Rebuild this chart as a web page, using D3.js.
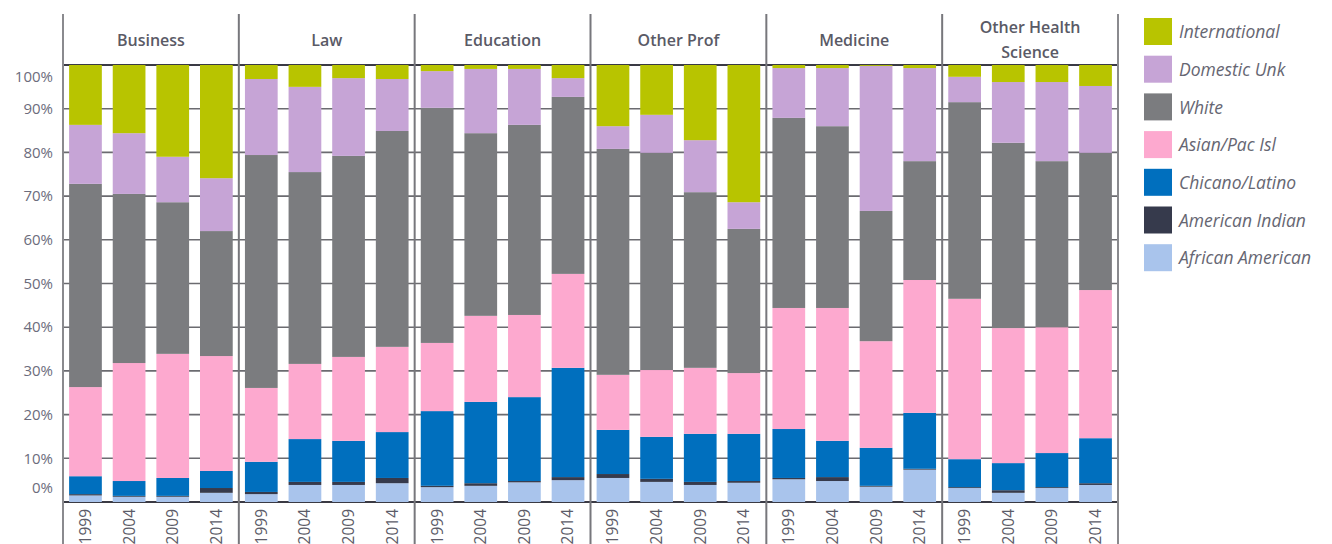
<!DOCTYPE html>
<html>
<head>
<meta charset="utf-8">
<script src="https://cdn.jsdelivr.net/npm/d3@7"></script>
<style>
    body { margin: 0; background: #fff; }
    svg { display: block; font-family: "Open Sans", "DejaVu Sans", sans-serif; }
</style>
</head>
<body>
<svg id="canvas"></svg>
<script>
const PROGRAMS = ["Business", "Law", "Education", "Other Prof", "Medicine", "Other Health Science"];
const YEARS = ["1999", "2004", "2009", "2014"];
const Y_TICKS = [0, 10, 20, 30, 40, 50, 60, 70, 80, 90, 100];

// one value per bar, programs in order, years inside (percent of enrolment)
const AFRICAN_AMERICAN = [1.5, 1.2, 1.2, 2.1, 1.8, 3.9, 3.9, 4.3, 3.4, 3.7, 4.5, 5.0, 5.5, 4.6, 3.9, 4.4, 5.2, 4.8, 3.5, 7.4, 3.2, 2.1, 3.2, 3.9];
const AMERICAN_INDIAN = [0.3, 0.2, 0.2, 1.1, 0.5, 0.7, 0.7, 1.2, 0.3, 0.6, 0.3, 0.7, 0.9, 0.7, 0.7, 0.4, 0.3, 0.9, 0.2, 0.2, 0.2, 0.6, 0.2, 0.4];
const CHICANO_LATINO = [4.1, 3.4, 4.1, 3.9, 6.9, 9.8, 9.4, 10.5, 17.1, 18.6, 19.2, 25.0, 10.1, 9.6, 11.0, 10.8, 11.2, 8.3, 8.7, 12.8, 6.4, 6.2, 7.8, 10.3];
const ASIAN_PAC = [20.4, 27.0, 28.4, 26.3, 16.9, 17.2, 19.2, 19.5, 15.6, 19.7, 18.8, 21.5, 12.6, 15.3, 15.1, 13.9, 27.7, 30.4, 24.4, 30.4, 36.7, 30.9, 28.8, 33.9];
const WHITE = [46.5, 38.7, 34.7, 28.6, 53.3, 43.9, 46.0, 49.4, 53.8, 41.8, 43.5, 40.5, 51.7, 49.7, 40.2, 33.0, 43.5, 41.6, 29.8, 27.2, 45.0, 42.4, 38.0, 31.4];
const DOMESTIC_UNK = [13.5, 13.9, 10.4, 12.1, 17.4, 19.5, 17.8, 11.9, 8.4, 14.7, 12.8, 4.3, 5.2, 8.7, 11.9, 6.1, 11.4, 13.3, 33.2, 21.3, 5.8, 13.9, 18.1, 15.3];
const INTERNATIONAL = [13.7, 15.6, 21.0, 25.9, 3.2, 5.0, 3.0, 3.2, 1.4, 0.9, 0.9, 3.0, 14.0, 11.4, 17.2, 31.4, 0.7, 0.7, 0.2, 0.7, 2.7, 3.9, 3.9, 4.8];

// stacking order, bottom to top
const SERIES = [
    ["African American", AFRICAN_AMERICAN, "#a9c4ec"],
    ["American Indian", AMERICAN_INDIAN, "#363a4c"],
    ["Chicano/Latino", CHICANO_LATINO, "#006fbe"],
    ["Asian/Pac Isl", ASIAN_PAC, "#fda9cf"],
    ["White", WHITE, "#7b7c7f"],
    ["Domestic Unk", DOMESTIC_UNK, "#c6a4d6"],
    ["International", INTERNATIONAL, "#b8c400"]
];

const width = 1332;
const height = 544;
const plotLeft = 63;
const plotRight = 1118;
const plotTop = 65;
const plotBottom = 502;
const headerTop = 14;

const canvas = d3.select("#canvas")
    .attr("width", width)
    .attr("height", height);

// build rows for d3.stack
const rows = [];
PROGRAMS.forEach((program, p) => {
    YEARS.forEach((year, k) => {
        const row = { program: program, year: year };
        SERIES.forEach(s => row[s[0]] = s[1][p * YEARS.length + k]);
        rows.push(row);
    });
});
const stacked = d3.stack().keys(SERIES.map(s => s[0]))(rows);

const xProgram = d3.scaleBand()
    .domain(PROGRAMS)
    .range([plotLeft, plotRight]);
const xYear = d3.scaleBand()
    .domain(YEARS)
    .range([0, xProgram.bandwidth()])
    .paddingInner(0.25)
    .paddingOuter(0.14);
const yScale = d3.scaleLinear()
    .domain([0, 100])
    .range([plotBottom, plotTop]);

//Gridlines behind the bars
canvas.append("g")
    .selectAll("line")
    .data(Y_TICKS)
    .enter()
    .append("line")
    .attr("x1", plotLeft)
    .attr("x2", plotRight)
    .attr("y1", d => yScale(d))
    .attr("y2", d => yScale(d))
    .attr("stroke", d => d === 0 || d === 100 ? "#3a3a44" : "#6b6b70")
    .attr("stroke-width", d => d === 0 || d === 100 ? 2 : 1.6);

//Y labels, the picture has the end labels nudged inwards
canvas.append("g")
    .selectAll("text")
    .data(Y_TICKS)
    .enter()
    .append("text")
    .attr("x", 53)
    .attr("y", d => yScale(d) + (d === 0 ? -14 : d === 100 ? 12 : 0))
    .attr("dy", "0.35em")
    .attr("text-anchor", "end")
    .attr("font-size", 15)
    .attr("fill", "#6c6c7c")
    .text(d => d + "%");

//Stacked bars
canvas.append("g")
    .selectAll("g")
    .data(stacked)
    .enter()
    .append("g")
    .attr("fill", (d, i) => SERIES[i][2])
    .selectAll("rect")
    .data(d => d)
    .enter()
    .append("rect")
    .attr("x", d => xProgram(d.data.program) + xYear(d.data.year))
    .attr("width", xYear.bandwidth())
    .attr("y", d => yScale(d[1]))
    .attr("height", d => yScale(d[0]) - yScale(d[1]));

//Panel separators
const edges = PROGRAMS.map(p => xProgram(p)).concat([plotRight]);
canvas.append("g")
    .selectAll("line")
    .data(edges)
    .enter()
    .append("line")
    .attr("x1", d => d)
    .attr("x2", d => d)
    .attr("y1", headerTop)
    .attr("y2", height)
    .attr("stroke", (d, i) => i === 0 || i === edges.length - 1 ? "#8a8a8e" : "#77777c")
    .attr("stroke-width", 2);

//Panel titles
const titles = canvas.append("g")
    .selectAll("text")
    .data(PROGRAMS)
    .enter()
    .append("text")
    .attr("x", d => xProgram(d) + xProgram.bandwidth() / 2)
    .attr("y", d => d === "Other Health Science" ? 27 : 40)
    .attr("dy", "0.35em")
    .attr("text-anchor", "middle")
    .attr("font-size", 16)
    .attr("font-weight", 600)
    .attr("fill", "#5a5a66");
titles.each(function (d) {
    if (d === "Other Health Science") {
        d3.select(this).append("tspan").attr("x", xProgram(d) + xProgram.bandwidth() / 2).text("Other Health");
        d3.select(this).append("tspan").attr("x", xProgram(d) + xProgram.bandwidth() / 2).attr("dy", 25).text("Science");
    } else {
        d3.select(this).text(d);
    }
});

//Year labels, rotated
canvas.append("g")
    .selectAll("text")
    .data(rows)
    .enter()
    .append("text")
    .attr("transform", d => `translate(${xProgram(d.program) + xYear(d.year) + xYear.bandwidth() / 2}, ${plotBottom + 7}) rotate(-90)`)
    .attr("dy", "0.35em")
    .attr("text-anchor", "end")
    .attr("font-size", 15.5)
    .attr("fill", "#5c5c68")
    .text(d => d.year);

//Legend
const legend = canvas.append("g")
    .selectAll("g")
    .data(SERIES.slice().reverse())
    .enter()
    .append("g")
    .attr("transform", (d, i) => `translate(1144, ${18 + i * 37.7})`);
legend.append("rect")
    .attr("width", 28)
    .attr("height", 27)
    .attr("fill", d => d[2]);
legend.append("text")
    .attr("x", 35)
    .attr("y", 14)
    .attr("dy", "0.35em")
    .attr("font-size", 17.5)
    .attr("font-style", "italic")
    .attr("fill", "#666672")
    .text(d => d[0]);
</script>
</body>
</html>
